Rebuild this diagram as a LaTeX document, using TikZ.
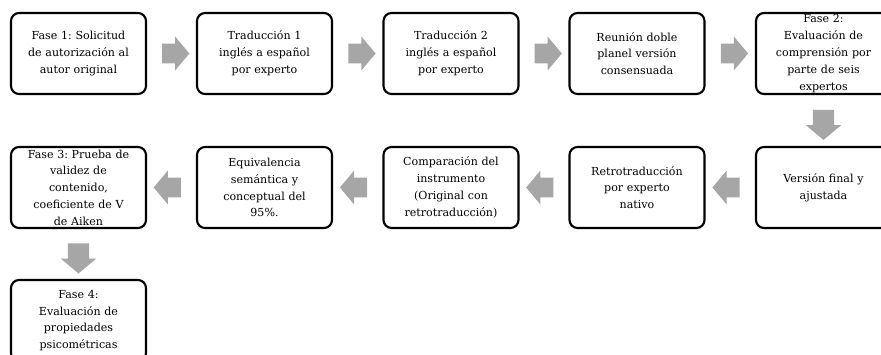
\documentclass[tikz,border=0pt]{standalone}
\usepackage{fontspec}
\setmainfont{DejaVu Serif}
\usetikzlibrary{shapes.arrows,calc}
\definecolor{arrowgray}{RGB}{166,166,166}
\tikzset{every picture/.style={line width=0.75pt}}
\frenchspacing

\begin{document}
\begin{tikzpicture}[x=0.75pt,y=0.75pt,yscale=-1,xscale=1,
  stepbox/.style={draw,line width=1.6pt,rounded corners=6pt,minimum width=101.25pt,minimum height=60.75pt,
    inner sep=0pt,align=center,text width=101pt,font=\fontsize{8.3}{12.6}\selectfont},
  blockarrow/.style={single arrow,fill=arrowgray,draw=none,inner xsep=0pt,inner ysep=7.1pt,minimum height=20.5pt,
    single arrow head extend=5.25pt,single arrow tip angle=100},
  downarrow/.style={blockarrow,shape border rotate=270,inner xsep=7.6pt,inner ysep=0pt,minimum height=22.5pt}]
		\useasboundingbox (0,0) rectangle (881,354);
		\clip (0,0) rectangle (881,354);
		
		%Shape: Rounded Rect, first row
		\node [stepbox] (fase1) at (78.5,53.5) {Fase 1: Solicitud\\de autorización al\\autor original};
		\node [stepbox] (trad1) at (264.5,53.5) {Traducción 1\\inglés a español\\por experto};
		\node [stepbox] (trad2) at (451,53.5) {Traducción 2\\inglés a español\\por experto};
		\node [stepbox] (reunion) at (637,53.5) {Reunión doble\\planel versión\\consensuada};
		\node [stepbox] (fase2) at (823.5,53.5) {Fase 2:\\Evaluación de\\comprensión por\\parte de seis\\expertos};
		%Shape: Rounded Rect, second row
		\node [stepbox] (version) at (823.5,187.5) {Versión final y\\ajustada};
		\node [stepbox] (retro) at (637,187.5) {Retrotraducción\\por experto\\nativo};
		\node [stepbox] (compara) at (451,187.5) {Comparación del\\instrumento\\(Original con\\retrotraducción)};
		\node [stepbox] (equiv) at (264.5,187.5) {Equivalencia\\semántica y\\conceptual del\\95\%.};
		\node [stepbox] (fase3) at (78.5,187.5) {Fase 3: Prueba de\\validez de\\contenido,\\coeficiente de V\\de Aiken};
		%Shape: Rounded Rect, third row
		\node [stepbox] (fase4) at (78.5,320.5) {Fase 4:\\Evaluación de\\propiedades\\psicométricas};
		
		%Block Arrows
		\node [blockarrow] (a1) at ($(fase1.east)!0.5!(trad1.west)$) {};
		\node [blockarrow] (a2) at ($(trad1.east)!0.5!(trad2.west)$) {};
		\node [blockarrow] (a3) at ($(trad2.east)!0.5!(reunion.west)$) {};
		\node [blockarrow] (a4) at ($(reunion.east)!0.5!(fase2.west)$) {};
		\node [downarrow] (a5) at ($(fase2.south)!0.5!(version.north)$) {};
		\node [blockarrow,shape border rotate=180] (a6) at ($(version.west)!0.5!(retro.east)$) {};
		\node [blockarrow,shape border rotate=180] (a7) at ($(retro.west)!0.5!(compara.east)$) {};
		\node [blockarrow,shape border rotate=180] (a8) at ($(compara.west)!0.5!(equiv.east)$) {};
		\node [blockarrow,shape border rotate=180] (a9) at ($(equiv.west)!0.5!(fase3.east)$) {};
		\node [downarrow] (a10) at ($(fase3.south)!0.5!(fase4.north)$) {};
		
\end{tikzpicture}
\end{document}
